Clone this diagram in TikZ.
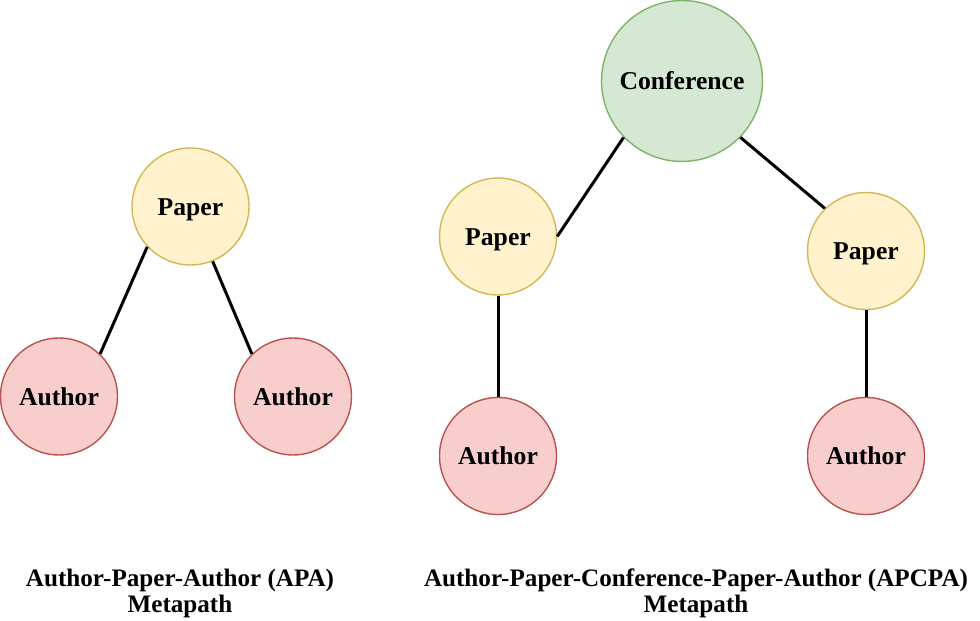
\documentclass[tikz,border=0pt]{standalone}
\usepackage{fontspec}
\setmainfont{Liberation Serif}
\usepackage{tikz}
\usetikzlibrary{calc}
\definecolor{paperfill}{HTML}{FFF2CC}
\definecolor{paperline}{HTML}{D6B656}
\definecolor{authorfill}{HTML}{F8CECC}
\definecolor{authorline}{HTML}{B85450}
\definecolor{conffill}{HTML}{D5E8D4}
\definecolor{confline}{HTML}{82B366}

\begin{document}
\begin{tikzpicture}[x=0.02cm,y=-0.02cm,
    vertex/.style={circle,line width=0.8pt,inner sep=0pt,minimum size=2.34cm,
      font=\fontsize{14.6}{17}\selectfont\bfseries,text height=9.7pt,text depth=0pt},
    paper/.style={vertex,draw=paperline,fill=paperfill},
    author/.style={vertex,draw=authorline,fill=authorfill},
    conf/.style={vertex,draw=confline,fill=conffill,minimum size=3.22cm},
    edge/.style={line width=1.7pt,black},
    caption/.style={align=center,font=\fontsize{14.3}{14.7}\selectfont\bfseries}]
        \useasboundingbox (0,0) rectangle (980,621);
        %APA nodes
        \node[paper] (p1) at (190.5,206.5) {Paper};
        \node[author] (a1) at (59,396.5) {Author};
        \node[author] (a2) at (293,396.5) {Author};
        %APCPA nodes
        \node[conf] (c) at (682,81) {Conference};
        \node[paper] (p2) at (498,236.5) {Paper};
        \node[paper] (p3) at (866,251) {Paper};
        \node[author] (a3) at (498,456) {Author};
        \node[author] (a4) at (866,456) {Author};
        %Edges
        \draw[edge] (p1.223.6) -- (a1.46);
        \draw[edge] (p1.-68.5) -- (a2.134);
        \draw[edge] (c.224.5) -- (p2.east);
        \draw[edge] (c.-44.5) -- (p3.134.7);
        \draw[edge] (p2) -- (a3);
        \draw[edge] (p3) -- (a4);
        %Captions
        \node[caption] (t1) at (180,593.5) {Author-Paper-Author (APA)\\Metapath};
        \node[caption] (t2) at (696,593.5) {Author-Paper-Conference-Paper-Author (APCPA)\\Metapath};
\end{tikzpicture}
\end{document}
